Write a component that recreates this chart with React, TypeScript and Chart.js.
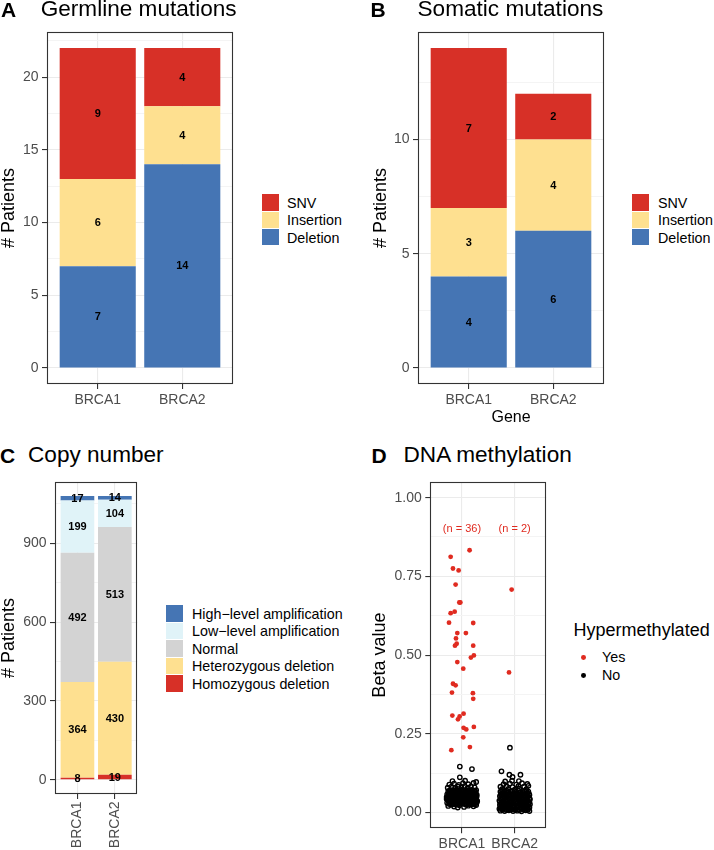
import React, { useEffect, useRef } from 'react';
import { Chart, registerables } from 'chart.js';
Chart.register(...registerables);

const FONT = '"Liberation Sans", Arial, Helvetica, sans-serif';
const RED = '#D73027';
const YELLOW = '#FEE090';
const BLUE = '#4575B4';
const LIGHTBLUE = '#E0F3F8';
const GREY = '#D3D3D3';
const PT_RED = '#E02B20';

// ---------- data ----------
const genes = ['BRCA1', 'BRCA2'];
const mutationTypes = ['SNV', 'Insertion', 'Deletion'];
const germlineSNV = [9, 4];
const germlineInsertion = [6, 4];
const germlineDeletion = [7, 14];
const somaticSNV = [7, 2];
const somaticInsertion = [3, 4];
const somaticDeletion = [4, 6];

const cnaTypes = ['High−level amplification', 'Low−level amplification', 'Normal', 'Heterozygous deletion', 'Homozygous deletion'];
const cnaHigh = [17, 14];
const cnaLow = [199, 104];
const cnaNormal = [492, 513];
const cnaHet = [364, 430];
const cnaHomo = [8, 19];

const germlineMajor = [0, 5, 10, 15, 20];
const germlineMinor = [2.5, 7.5, 12.5, 17.5, 22.5];
const somaticMajor = [0, 5, 10];
const somaticMinor = [2.5, 7.5, 12.5];
const cnaMajor = [0, 300, 600, 900];
const cnaMinor = [150, 450, 750, 1050];
const betaMajor = [0, 0.25, 0.5, 0.75, 1];
const betaMinor = [0.125, 0.375, 0.625, 0.875];
const betaLabels = ['0.00', '0.25', '0.50', '0.75', '1.00'];

const methylationGroups = ['Yes', 'No'];
const hyperCounts = [36, 2];

// [jitter offset, beta value]
const brca1Yes: [number, number][] = [
  [0.145, 0.833], [-0.214, 0.812], [-0.17, 0.775], [-0.063, 0.769], [-0.12, 0.724], [-0.05, 0.667],
  [-0.03, 0.667], [-0.138, 0.638], [-0.214, 0.633], [-0.245, 0.603], [0.214, 0.602], [-0.088, 0.57],
  [0.075, 0.57], [-0.113, 0.553], [-0.1, 0.536], [-0.132, 0.53], [0.214, 0.53], [0.226, 0.499],
  [0.17, 0.492], [-0.088, 0.478], [0.025, 0.457], [-0.17, 0.409], [-0.12, 0.404], [-0.189, 0.381],
  [0.208, 0.379], [0.214, 0.361], [-0.182, 0.308], [0.031, 0.314], [-0.044, 0.305], [-0.075, 0.296],
  [0.031, 0.269], [0.082, 0.264], [0.226, 0.272], [0.025, 0.239], [0.151, 0.208], [-0.201, 0.198],
];
const brca2Yes: [number, number][] = [[-0.057, 0.708], [-0.107, 0.445]];

const brca1No: [number, number][] = [
  [-0.26, 0.021], [-0.15, 0.019], [-0.05, 0.023], [0.04, 0.018], [0.12, 0.022], [0.22, 0.02], [-0.2, 0.025], [0.17, 0.026], [0.27, 0.024], [-0.1, 0.026], [0.08, 0.025],
  [-0.28, 0.031], [-0.22, 0.029], [-0.17, 0.033], [-0.11, 0.028], [-0.06, 0.032], [-0.01, 0.03], [0.03, 0.034], [0.08, 0.029], [0.13, 0.031], [0.18, 0.033], [0.23, 0.028], [0.28, 0.032],
  [-0.25, 0.035], [-0.13, 0.036], [-0.03, 0.034], [0.06, 0.036], [0.16, 0.035], [0.26, 0.036],
  [-0.27, 0.041], [-0.23, 0.038], [-0.19, 0.043], [-0.14, 0.039], [-0.09, 0.042], [-0.04, 0.037], [0.0, 0.041], [0.05, 0.039], [0.1, 0.043], [0.15, 0.038], [0.2, 0.042], [0.25, 0.04], [0.29, 0.037],
  [-0.21, 0.045], [-0.08, 0.044], [0.02, 0.046], [0.12, 0.045], [0.23, 0.044],
  [-0.29, 0.049], [-0.24, 0.052], [-0.2, 0.048], [-0.15, 0.051], [-0.1, 0.047], [-0.06, 0.053], [-0.02, 0.049], [0.03, 0.051], [0.07, 0.047], [0.11, 0.052], [0.16, 0.049], [0.21, 0.053], [0.26, 0.048],
  [-0.26, 0.054], [-0.14, 0.055], [-0.04, 0.054], [0.08, 0.055], [0.18, 0.056],
  [-0.28, 0.058], [-0.22, 0.061], [-0.17, 0.057], [-0.12, 0.062], [-0.07, 0.059], [-0.03, 0.056], [0.01, 0.061], [0.06, 0.058], [0.1, 0.063], [0.14, 0.057], [0.19, 0.06], [0.24, 0.062], [0.28, 0.057],
  [-0.19, 0.065], [-0.09, 0.064], [0.03, 0.066], [0.16, 0.064], [0.25, 0.065],
  [-0.26, 0.068], [-0.21, 0.071], [-0.16, 0.067], [-0.11, 0.072], [-0.05, 0.069], [0.0, 0.073], [0.04, 0.068], [0.09, 0.071], [0.13, 0.067], [0.18, 0.072], [0.23, 0.069], [0.27, 0.071],
  [-0.27, 0.079], [-0.2, 0.082], [-0.13, 0.078], [-0.08, 0.083], [-0.01, 0.08], [0.05, 0.084], [0.11, 0.079], [0.17, 0.082], [0.24, 0.08],
  [-0.24, 0.089], [-0.15, 0.092], [-0.06, 0.088], [0.02, 0.093], [0.12, 0.09], [0.22, 0.094], [0.27, 0.097],
  [-0.04, 0.112], [-0.04, 0.146], [0.19, 0.138], [-0.08, 0.016], [0.06, 0.101], [-0.18, 0.1],
  // dense core
  [-0.24, 0.027], [-0.18, 0.028], [-0.13, 0.026], [-0.07, 0.027], [-0.02, 0.028], [0.05, 0.027], [0.1, 0.026], [0.15, 0.028], [0.2, 0.027], [0.25, 0.026],
  [-0.25, 0.039], [-0.21, 0.04], [-0.16, 0.039], [-0.11, 0.038], [-0.06, 0.04], [-0.02, 0.039], [0.03, 0.038], [0.08, 0.04], [0.13, 0.039], [0.18, 0.04], [0.22, 0.038], [0.27, 0.039],
  [-0.29, 0.043], [-0.16, 0.044], [-0.06, 0.043], [0.07, 0.042], [0.17, 0.044], [0.27, 0.043],
  [-0.27, 0.047], [-0.17, 0.047], [-0.12, 0.048], [-0.04, 0.047], [0.05, 0.048], [0.09, 0.047], [0.14, 0.046], [0.19, 0.047], [0.24, 0.046],
  [-0.22, 0.052], [-0.12, 0.051], [-0.08, 0.052], [0.0, 0.053], [0.05, 0.052], [0.14, 0.053], [0.23, 0.051], [0.28, 0.052],
  [-0.25, 0.06], [-0.2, 0.059], [-0.15, 0.061], [-0.1, 0.06], [-0.05, 0.061], [0.04, 0.06], [0.08, 0.061], [0.12, 0.059], [0.17, 0.061], [0.21, 0.059], [0.26, 0.06],
  [-0.23, 0.07], [-0.18, 0.069], [-0.13, 0.07], [-0.08, 0.069], [-0.02, 0.07], [0.02, 0.071], [0.07, 0.069], [0.11, 0.07], [0.16, 0.069], [0.2, 0.07], [0.25, 0.068],
  [-0.23, 0.033], [-0.15, 0.032], [-0.08, 0.035], [0.01, 0.033], [0.1, 0.034], [0.2, 0.035],
  [-0.24, 0.065], [-0.14, 0.066], [-0.04, 0.065], [0.07, 0.064], [0.12, 0.066], [0.21, 0.064],
];
const brca2No: [number, number][] = [
  [-0.27, 0.006], [-0.19, 0.005], [-0.11, 0.007], [-0.03, 0.005], [0.05, 0.006], [0.13, 0.004], [0.21, 0.007], [0.28, 0.005],
  [-0.29, 0.012], [-0.23, 0.013], [-0.15, 0.011], [-0.07, 0.013], [0.01, 0.012], [0.09, 0.011], [0.17, 0.013], [0.25, 0.012],
  [-0.26, 0.018], [-0.2, 0.019], [-0.12, 0.017], [-0.04, 0.019], [0.04, 0.018], [0.12, 0.017], [0.2, 0.019], [0.27, 0.018],
  [-0.28, 0.024], [-0.22, 0.025], [-0.16, 0.023], [-0.09, 0.025], [-0.01, 0.024], [0.07, 0.023], [0.15, 0.025], [0.23, 0.024], [0.29, 0.026],
  [-0.25, 0.031], [-0.18, 0.03], [-0.1, 0.032], [-0.02, 0.031], [0.06, 0.03], [0.14, 0.032], [0.21, 0.031], [0.28, 0.033],
  [-0.29, 0.038], [-0.21, 0.037], [-0.14, 0.039], [-0.06, 0.038], [0.02, 0.037], [0.1, 0.039], [0.18, 0.038], [0.25, 0.037],
  [-0.26, 0.045], [-0.19, 0.046], [-0.11, 0.044], [-0.03, 0.046], [0.05, 0.045], [0.13, 0.044], [0.2, 0.046], [0.28, 0.045],
  [-0.28, 0.052], [-0.22, 0.053], [-0.15, 0.051], [-0.07, 0.053], [0.01, 0.052], [0.09, 0.051], [0.16, 0.053], [0.24, 0.052],
  [-0.25, 0.059], [-0.18, 0.06], [-0.1, 0.058], [-0.02, 0.06], [0.06, 0.059], [0.14, 0.058], [0.21, 0.06], [0.27, 0.059],
  [-0.27, 0.066], [-0.2, 0.067], [-0.13, 0.065], [-0.05, 0.067], [0.03, 0.066], [0.11, 0.065], [0.19, 0.067], [0.26, 0.066],
  [-0.24, 0.074], [-0.12, 0.075], [0.0, 0.073], [0.09, 0.076], [0.22, 0.074],
  [-0.27, 0.082], [-0.16, 0.083], [-0.04, 0.081], [0.07, 0.084], [0.18, 0.082], [0.26, 0.085],
  [-0.21, 0.09], [-0.09, 0.092], [0.03, 0.089], [0.14, 0.093], [0.24, 0.091],
  [-0.18, 0.099], [-0.05, 0.101], [0.08, 0.1],
  [-0.09, 0.206], [-0.25, 0.131], [-0.1, 0.12], [-0.04, 0.113], [0.11, 0.12],
  // dense core
  [-0.23, 0.009], [-0.15, 0.008], [-0.07, 0.01], [0.01, 0.009], [0.09, 0.008], [0.17, 0.01], [0.25, 0.009],
  [-0.27, 0.015], [-0.19, 0.016], [-0.11, 0.014], [-0.03, 0.015], [0.05, 0.016], [0.13, 0.014], [0.21, 0.015], [0.28, 0.016],
  [-0.23, 0.021], [-0.16, 0.022], [-0.08, 0.02], [0.0, 0.021], [0.08, 0.022], [0.16, 0.02], [0.24, 0.021],
  [-0.26, 0.028], [-0.19, 0.027], [-0.13, 0.029], [-0.05, 0.028], [0.03, 0.027], [0.11, 0.029], [0.18, 0.028], [0.26, 0.027],
  [-0.28, 0.034], [-0.22, 0.035], [-0.14, 0.034], [-0.06, 0.033], [0.02, 0.035], [0.1, 0.034], [0.17, 0.033], [0.24, 0.035],
  [-0.25, 0.041], [-0.17, 0.042], [-0.09, 0.04], [-0.01, 0.041], [0.07, 0.042], [0.15, 0.04], [0.22, 0.041], [0.29, 0.042],
  [-0.23, 0.048], [-0.15, 0.049], [-0.07, 0.047], [0.02, 0.048], [0.09, 0.049], [0.17, 0.047], [0.25, 0.048],
  [-0.26, 0.055], [-0.18, 0.056], [-0.11, 0.054], [-0.03, 0.055], [0.05, 0.056], [0.12, 0.054], [0.2, 0.055], [0.28, 0.056],
  [-0.22, 0.062], [-0.14, 0.063], [-0.06, 0.061], [0.02, 0.062], [0.1, 0.063], [0.17, 0.061], [0.24, 0.062],
  [-0.24, 0.069], [-0.16, 0.07], [-0.08, 0.068], [0.0, 0.069], [0.07, 0.07], [0.15, 0.068], [0.22, 0.069],
];

// ---------- plugins ----------
const panelBorder = {
  id: 'panelBorder',
  afterDatasetsDraw(chart: any) {
    const { ctx, chartArea: a } = chart;
    ctx.save();
    ctx.strokeStyle = '#333333';
    ctx.lineWidth = 1.1;
    ctx.strokeRect(Math.round(a.left) + 0.5, Math.round(a.top) + 0.5, Math.round(a.right - a.left) - 1, Math.round(a.bottom - a.top) - 1);
    ctx.restore();
  },
};

const barLabels = {
  id: 'barLabels',
  afterDraw(chart: any) {
    const ctx = chart.ctx;
    ctx.save();
    ctx.font = `bold 11px ${FONT}`;
    ctx.fillStyle = '#000';
    ctx.textAlign = 'center';
    ctx.textBaseline = 'middle';
    chart.data.datasets.forEach((ds: any, di: number) => {
      const meta = chart.getDatasetMeta(di);
      meta.data.forEach((el: any, i: number) => {
        const p = el.getProps(['x', 'y', 'base'], true);
        ctx.fillText(String(ds.data[i].y), p.x, (p.y + p.base) / 2 + 0.5);
      });
    });
    ctx.restore();
  },
};

const countLabels = {
  id: 'countLabels',
  afterDraw(chart: any) {
    const { ctx, scales } = chart;
    ctx.save();
    ctx.font = `11px ${FONT}`;
    ctx.fillStyle = PT_RED;
    ctx.textAlign = 'center';
    ctx.textBaseline = 'middle';
    hyperCounts.forEach((n, i) => {
      ctx.fillText(`(n = ${n})`, scales.x.getPixelForValue(i + 1), scales.y.getPixelForValue(0.9));
    });
    ctx.restore();
  },
};

// ---------- configs ----------
function yScale(opts: any) {
  const { min, max, major, minor, labels, width, titleText, titlePad } = opts;
  const all = [...major, ...minor].sort((a, b) => a - b);
  const isMajor = (v: number) => major.includes(v);
  return {
    type: 'linear',
    stacked: opts.stacked,
    min,
    max,
    afterBuildTicks: (ax: any) => { ax.ticks = all.map((v) => ({ value: v })); },
    afterFit: (ax: any) => { ax.width = width; },
    ticks: {
      padding: 3.5,
      color: '#4D4D4D',
      font: { family: FONT, size: 14 },
      autoSkip: false,
      callback: (v: number) => {
        const k = major.indexOf(v);
        return k >= 0 ? (labels ? labels[k] : String(v)) : '';
      },
    },
    grid: {
      color: (c: any) => (c.tick && isMajor(c.tick.value) ? '#EBEBEB' : '#F4F4F4'),
      lineWidth: 1.1,
      drawTicks: true,
      tickLength: 5,
      tickWidth: 1.1,
      tickColor: (c: any) => (c.tick && isMajor(c.tick.value) ? '#333333' : 'rgba(0,0,0,0)'),
    },
    border: { display: false },
    title: {
      display: true,
      text: titleText,
      color: '#000',
      font: { family: FONT, size: 18 },
      padding: { top: titlePad, bottom: 0 },
    },
  };
}

function xScale(opts: any) {
  const { height, rotate, title } = opts;
  return {
    type: 'linear',
    stacked: opts.stacked,
    min: 0.4,
    max: 2.6,
    offset: false,
    afterBuildTicks: (ax: any) => { ax.ticks = genes.map((_, i) => ({ value: i + 1 })); },
    afterFit: (ax: any) => { ax.height = height; },
    ticks: {
      autoSkip: false,
      maxRotation: rotate,
      minRotation: rotate,
      padding: 2.5,
      color: '#4D4D4D',
      font: { family: FONT, size: 14 },
      callback: (v: number) => genes[v - 1] ?? '',
    },
    grid: {
      offset: false,
      color: '#EBEBEB',
      lineWidth: 1.1,
      tickLength: 5,
      tickWidth: 1.1,
      tickColor: '#333333',
    },
    border: { display: false },
    title: title
      ? { display: true, text: title.text, color: '#000', font: { family: FONT, size: 16 }, padding: { top: 0, bottom: title.pad } }
      : { display: false },
  };
}

function barDataset(label: string, values: number[], color: string) {
  return {
    label,
    data: values.map((v, i) => ({ x: i + 1, y: v })),
    backgroundColor: color,
    borderWidth: 0,
    barPercentage: 0.9,
    categoryPercentage: 1,
  };
}

function barConfig(opts: any) {
  return {
    type: 'bar',
    data: { datasets: opts.datasets },
    options: {
      animation: false,
      responsive: false,
      maintainAspectRatio: false,
      layout: { padding: opts.padding },
      plugins: { legend: { display: false }, tooltip: { enabled: false } },
      scales: {
        x: xScale({ ...opts.x, stacked: true }),
        y: yScale({ ...opts.y, stacked: true }),
      },
    },
    plugins: [panelBorder, barLabels],
  };
}

const configA = () =>
  barConfig({
    datasets: [
      barDataset('Deletion', germlineDeletion, BLUE),
      barDataset('Insertion', germlineInsertion, YELLOW),
      barDataset('SNV', germlineSNV, RED),
    ],
    padding: { left: 0, top: 32, right: 7, bottom: 0 },
    x: { height: 31, rotate: 0 },
    y: { min: -1.1, max: 23.1, major: germlineMajor, minor: germlineMinor, width: 47, titleText: '# Patients', titlePad: -2 },
  });

const configB = () =>
  barConfig({
    datasets: [
      barDataset('Deletion', somaticDeletion, BLUE),
      barDataset('Insertion', somaticInsertion, YELLOW),
      barDataset('SNV', somaticSNV, RED),
    ],
    padding: { left: 0, top: 32, right: 13, bottom: 0 },
    x: { height: 46, rotate: 0, title: { text: 'Gene', pad: 3 } },
    y: { min: -0.7, max: 14.7, major: somaticMajor, minor: somaticMinor, width: 61, titleText: '# Patients', titlePad: 13 },
  });

const configC = () =>
  barConfig({
    datasets: [
      barDataset('Homozygous deletion', cnaHomo, RED),
      barDataset('Heterozygous deletion', cnaHet, YELLOW),
      barDataset('Normal', cnaNormal, GREY),
      barDataset('Low-level amplification', cnaLow, LIGHTBLUE),
      barDataset('High-level amplification', cnaHigh, BLUE),
    ],
    padding: { left: 0, top: 6.7, right: 7.7, bottom: 0 },
    x: { height: 56, rotate: 90 },
    y: { min: -54, max: 1134, major: cnaMajor, minor: cnaMinor, width: 55, titleText: '# Patients', titlePad: -2 },
  });

const toPoints = (pts: [number, number][], gene: number) => pts.map(([dx, b]) => ({ x: gene + dx, y: b }));

const configD = () => ({
  type: 'scatter',
  data: {
    datasets: [
      {
        label: methylationGroups[1],
        data: [...toPoints(brca1No, 1), ...toPoints(brca2No, 2)],
        pointRadius: 2.2,
        pointBorderWidth: 1.4,
        borderColor: '#000',
        backgroundColor: 'rgba(0,0,0,0)',
      },
      {
        label: methylationGroups[0],
        data: [...toPoints(brca1Yes, 1), ...toPoints(brca2Yes, 2)],
        pointRadius: 2.4,
        pointBorderWidth: 0,
        borderColor: PT_RED,
        backgroundColor: PT_RED,
      },
    ],
  },
  options: {
    animation: false,
    responsive: false,
    maintainAspectRatio: false,
    layout: { padding: { left: 0, top: 6.7, right: 10.7, bottom: 0 } },
    plugins: { legend: { display: false }, tooltip: { enabled: false } },
    scales: {
      x: xScale({ height: 21.7, rotate: 0 }),
      y: yScale({ min: -0.05, max: 1.05, major: betaMajor, minor: betaMinor, labels: betaLabels, width: 73.3, titleText: 'Beta value', titlePad: 12.7 }),
    },
  },
  plugins: [panelBorder, countLabels],
});

// ---------- components ----------
function ChartCanvas({ left, top, width, height, config }: any) {
  const ref = useRef<HTMLCanvasElement>(null);
  useEffect(() => {
    const chart = new Chart(ref.current as HTMLCanvasElement, config() as any);
    return () => chart.destroy();
  }, []);
  return <canvas ref={ref} width={width} height={height} style={{ position: 'absolute', left, top, width, height }} />;
}

function Txt({ x, baseline, size, bold, color, children }: any) {
  return (
    <div
      style={{
        position: 'absolute',
        left: x,
        top: baseline - 0.8465 * size,
        fontSize: size,
        lineHeight: `${size}px`,
        fontFamily: FONT,
        fontWeight: bold ? 'bold' : 'normal',
        color: color || '#000',
        whiteSpace: 'nowrap',
      }}
    >
      {children}
    </div>
  );
}

function Swatch({ x, y, w, h, color }: any) {
  return <div style={{ position: 'absolute', left: x, top: y, width: w, height: h, background: color }} />;
}

function BarLegend({ x, textX, top, step, items, colors }: any) {
  return (
    <>
      {items.map((t: string, i: number) => (
        <React.Fragment key={t}>
          <Swatch x={x} y={top + i * step} w={16.5} h={step - 0.8} color={colors[i]} />
          <Txt x={textX} baseline={top + i * step + step / 2 + 5.1} size={14.3}>{t}</Txt>
        </React.Fragment>
      ))}
    </>
  );
}

export default function App() {
  return (
    <div style={{ position: 'absolute', left: 0, top: 0, width: 714, height: 850, background: '#fff', overflow: 'hidden' }}>
      <ChartCanvas left={0} top={0} width={240} height={415} config={configA} />
      <ChartCanvas left={357} top={0} width={260} height={430} config={configB} />
      <ChartCanvas left={0} top={470} width={145} height={380} config={configC} />
      <ChartCanvas left={357} top={470} width={200} height={380} config={configD} />

      <Txt x={1} baseline={16.7} size={21} bold>A</Txt>
      <Txt x={40.7} baseline={16.7} size={22.6}>Germline mutations</Txt>
      <Txt x={370.5} baseline={16.7} size={21} bold>B</Txt>
      <Txt x={417.5} baseline={16.7} size={22.6}>Somatic mutations</Txt>
      <Txt x={0} baseline={462.7} size={21} bold>C</Txt>
      <Txt x={28} baseline={462.7} size={22.6}>Copy number</Txt>
      <Txt x={371.5} baseline={462.7} size={21} bold>D</Txt>
      <Txt x={403.5} baseline={462.7} size={22.6}>DNA methylation</Txt>

      <BarLegend x={262} textX={287} top={194.3} step={17.3} items={mutationTypes} colors={[RED, YELLOW, BLUE]} />
      <BarLegend x={632} textX={658} top={194.3} step={17.3} items={mutationTypes} colors={[RED, YELLOW, BLUE]} />
      <BarLegend x={166} textX={192} top={605} step={17.5} items={cnaTypes} colors={[BLUE, LIGHTBLUE, GREY, YELLOW, RED]} />

      <Txt x={573.6} baseline={636.7} size={18}>Hypermethylated</Txt>
      <div style={{ position: 'absolute', left: 583.7 - 2.4, top: 657.3 - 2.4, width: 4.8, height: 4.8, borderRadius: '50%', background: PT_RED }} />
      <div style={{ position: 'absolute', left: 583.7 - 2.4, top: 675.3 - 2.4, width: 4.8, height: 4.8, borderRadius: '50%', background: '#000' }} />
      <Txt x={602} baseline={662.6} size={14.3}>{methylationGroups[0]}</Txt>
      <Txt x={602} baseline={680.5} size={14.3}>{methylationGroups[1]}</Txt>
    </div>
  );
}
